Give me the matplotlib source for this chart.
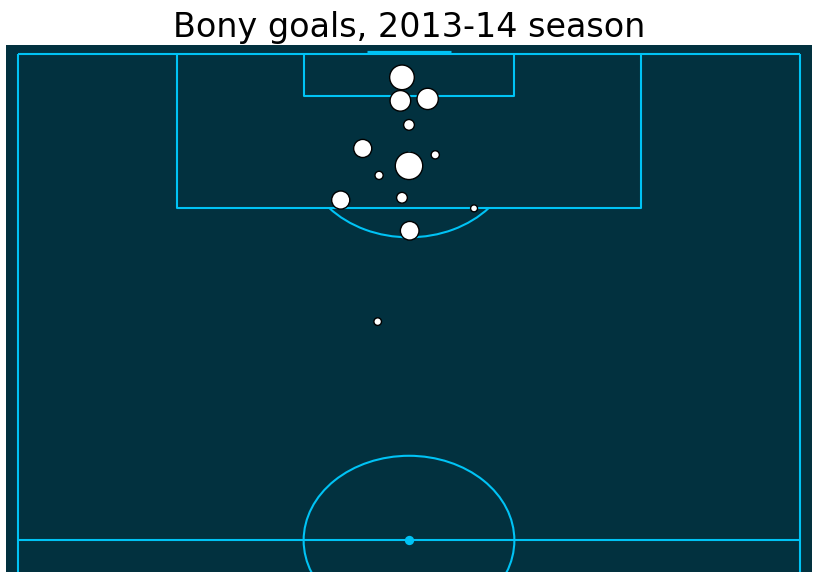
import matplotlib
matplotlib.use("Agg")
import matplotlib.pyplot as plt
from matplotlib.patches import Arc, Ellipse

# Shot locations of goals (metres: x across pitch 0-68, y along pitch, goal line at 105)
goal_x = [33.39, 33.25, 35.62, 34.00, 29.98, 34.00, 36.28, 31.40, 28.07, 33.39, 39.65, 34.06, 31.28]
goal_y = [102.5, 99.96, 100.17, 97.36, 94.81, 92.93, 94.12, 91.90, 89.23, 89.48, 88.33, 85.91, 76.08]
goal_xg = [0.63, 0.44, 0.47, 0.12, 0.34, 0.78, 0.07, 0.07, 0.34, 0.12, 0.05, 0.36, 0.06]

title = "Bony goals, 2013-14 season"

BG = "#02313f"
LINE = "#00c3f5"
LW = 1.5

fig = plt.figure(figsize=(8.17, 5.72), dpi=100)
ax = fig.add_axes([6 / 817, 0, 806 / 817, 527 / 572])
ax.set_facecolor(BG)
ax.set_xlim(-1, 69)
ax.set_ylim(49, 106)
ax.set_aspect("auto")
for s in ax.spines.values():
    s.set_visible(False)
ax.set_xticks([])
ax.set_yticks([])

def line(xs, ys, lw=LW):
    ax.plot(xs, ys, color=LINE, lw=lw, zorder=1, solid_capstyle="butt")

# touchlines, goal line, halfway line
line([0, 0], [40, 105])
line([68, 68], [40, 105])
line([0, 68], [105, 105])
line([0, 68], [52.42, 52.42])
# penalty box
line([13.84, 13.84, 54.16, 54.16], [105, 88.4, 88.4, 105])
# six-yard box
line([24.84, 24.84, 43.16, 43.16], [105, 100.5, 100.5, 105])
# goal
line([30.34, 37.66], [105.2, 105.2], lw=2.3)
# penalty arc
ax.add_patch(Arc((34, 94.35), 18.3, 18.3, theta1=220.6, theta2=319.4,
                 color=LINE, lw=LW, zorder=1))
# centre circle
ax.add_patch(Ellipse((34, 52.42), 18.3, 18.3, fill=False, edgecolor=LINE,
                     lw=LW, zorder=1))
ax.scatter([34], [52.42], s=45, color=LINE, zorder=2, linewidths=0)
ax.scatter([34], [94.35], s=10, color=LINE, zorder=2, linewidths=0)

# goals
ax.scatter(goal_x, goal_y, s=[v * 500 for v in goal_xg], color="white",
           edgecolors="black", linewidths=1, zorder=3)

ax.set_title(title, fontsize=24)

fig.savefig("out.png", dpi=100, facecolor="white")
